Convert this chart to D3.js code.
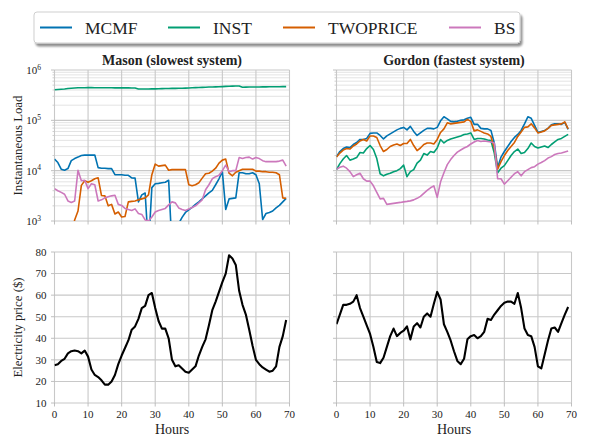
<!DOCTYPE html>
<html>
<head>
<meta charset="utf-8">
<script src="https://cdn.jsdelivr.net/npm/d3@7"></script>
<style>
  html, body { margin: 0; padding: 0; background: #fff; }
  svg { display: block; }
  svg text { font-family: "Liberation Serif", "DejaVu Serif", serif; }
</style>
</head>
<body>
<svg id="chart" width="591" height="437"></svg>
<script>
// ---- data -------------------------------------------------------------
const seriesNames = ["MCMF", "INST", "TWOPRICE", "BS"];
const seriesColors = ["#0173b2", "#029e73", "#d55e00", "#cc78bc"];
const panelTitles = ["Mason (slowest system)", "Gordon (fastest system)"];
const hourTicks = [0, 10, 20, 30, 40, 50, 60, 70];
const priceTicks = [10, 20, 30, 40, 50, 60, 70, 80];
const loadTicks = [1e3, 1e4, 1e5, 1e6];
const loadTickExponents = ["3", "4", "5", "6"];

// instantaneous load per hour, Mason
const masonMCMF = [17000, 14500, 10700, 10200, 11000, 15800, 17400, 18600, 20000, 20400,
  20400, 20400, 20400, 11500, 11200, 11200, 11000, 11000, 8300, 8300,
  8300, 8100, 8100, 7200, 7100, 2400, 3300, 3600, 300, 4600,
  5500, 5600, 5750, 5900, 6450, 300, 300, 890, 1180, 1480,
  1660, 1860, 2140, 2400, 2750, 3160, 3630, 4070, 5250, 6900,
  9550, 1700, 2750, 2820, 2880, 9100, 9100, 8700, 8700, 9100,
  8300, 5500, 1070, 1410, 1480, 1580, 1820, 2040, 2400, 2820];
const masonINST = [405000, 410000, 415000, 420000, 428000, 435000, 440000, 443000, 445000, 445000,
  446000, 446000, 445000, 444000, 444000, 443000, 443000, 443000, 442000, 442000,
  442000, 441000, 441000, 440000, 438000, 420000, 419000, 419000, 420000, 421000,
  422000, 424000, 426000, 428000, 430000, 431000, 432000, 433000, 435000, 437000,
  440000, 443000, 446000, 449000, 452000, 455000, 458000, 460000, 462000, 465000,
  468000, 472000, 475000, 478000, 480000, 481000, 455000, 456000, 458000, 459000,
  460000, 461000, 462000, 463000, 464000, 465000, 466000, 466000, 467000, 468000];
const masonTWOPRICE = [400, 400, 400, 400, 400, 400, 1050, 1580, 5100, 6300,
  5900, 6300, 6900, 7200, 3200, 3160, 2000, 2140, 1380, 1510,
  1200, 1230, 2400, 2450, 2500, 2630, 2750, 2880, 3300, 8300,
  13500, 12300, 12600, 12900, 10200, 10500, 10500, 10500, 10500, 10500,
  5250, 5000, 5250, 5750, 7100, 8700, 8900, 9800, 11200, 14100,
  16200, 17000, 8900, 7900, 9300, 10000, 10700, 10700, 10700, 10700,
  9800, 9800, 9550, 9550, 9300, 9300, 9100, 8300, 2880, 2820];
const masonBS = [4400, 4000, 3700, 3400, 2500, 2340, 2500, 10200, 6300, 6450,
  4400, 5500, 5250, 2500, 2630, 2880, 3020, 3160, 3240, 2140,
  2040, 1780, 1700, 1620, 1740, 1410, 1350, 1050, 1000, 1200,
  1510, 1620, 1700, 1780, 2090, 2400, 2290, 1820, 1700, 1620,
  1740, 1860, 2000, 2290, 2630, 4170, 5250, 6900, 7600, 8100,
  10000, 12900, 9550, 10000, 10000, 18200, 17400, 18200, 18600, 17000,
  18200, 17400, 15800, 15100, 15100, 15100, 15100, 15500, 16200, 12300];

// instantaneous load per hour, Gordon
const gordonMCMF = [19000, 24000, 27500, 29500, 28800, 33100, 36300, 41700, 41700, 43700,
  55000, 56200, 56200, 50100, 42700, 49000, 53700, 58900, 64600, 69200,
  72400, 64600, 75900, 60300, 50100, 56200, 63100, 69200, 69200, 67600,
  72400, 97700, 117500, 107200, 95500, 93300, 95500, 100000, 102300, 109600,
  114800, 83200, 83200, 69200, 67600, 67600, 63100, 35500, 11500, 18600,
  24000, 30200, 38000, 45700, 52500, 63100, 85100, 117500, 109600, 79400,
  57500, 60300, 63100, 69200, 81300, 85100, 85100, 83200, 91200, 66100];
const gordonINST = [10500, 13800, 17000, 20000, 16200, 17000, 18200, 22900, 22400, 27500,
  31600, 26300, 17400, 8700, 7900, 8500, 8900, 9550, 10000, 11000,
  12900, 7600, 9550, 10500, 14100, 16200, 21900, 20400, 24000, 22900,
  28200, 41700, 35500, 39800, 42700, 44700, 46800, 49000, 52500, 53700,
  56200, 41700, 43700, 43700, 42700, 40700, 39800, 22400, 9100, 11200,
  12600, 15800, 20000, 24000, 26900, 21900, 22900, 27500, 35500, 30200,
  28200, 29500, 30900, 28800, 33100, 37200, 41700, 43700, 47900, 52500];
const gordonTWOPRICE = [18600, 22400, 25700, 27500, 26900, 30900, 33900, 38900, 41700, 38900,
  49000, 49000, 45700, 31600, 24000, 26300, 30200, 32400, 33900, 31600,
  34700, 34700, 41700, 31600, 25100, 28200, 33100, 35500, 35500, 33900,
  41700, 57500, 67600, 89100, 85100, 87100, 89100, 91200, 93300, 104700,
  95500, 61700, 64600, 60300, 56200, 53700, 47900, 28200, 10700, 15100,
  20000, 25100, 30200, 36300, 47900, 58900, 72400, 74100, 85100, 70800,
  56200, 58900, 61700, 69200, 79400, 81300, 83200, 85100, 93300, 67600];
const gordonBS = [10700, 11700, 12300, 11200, 9550, 7600, 8300, 8900, 6900, 6200,
  6200, 5000, 3700, 2750, 2820, 2140, 2190, 2240, 2290, 2340,
  2400, 2450, 2510, 2630, 2820, 3090, 3550, 4070, 4570, 5000,
  2950, 6000, 9100, 13200, 16600, 20000, 23400, 25700, 28200, 30200,
  33900, 37200, 39800, 38000, 38900, 38000, 37200, 35500, 6900, 6900,
  5400, 6300, 7400, 8700, 9550, 7900, 9550, 10500, 11500, 12000,
  13500, 14500, 15800, 17800, 19000, 20900, 21900, 22400, 23400, 24500];

// electricity price per hour ($)
const masonPrice = [27.5, 28, 29.5, 30.5, 33, 34, 34.3, 34, 33, 34.3,
  31.5, 25.5, 23, 22, 20.5, 18.5, 18.5, 20, 23, 28,
  32, 35.5, 39, 44, 45.5, 49, 54, 55, 60, 61,
  54, 48, 44.5, 44.5, 40, 30, 27, 27.5, 26, 24.5,
  24, 25.5, 27, 32, 36, 39.5, 46, 53, 57, 61.5,
  66, 70, 78.5, 77, 74, 62, 55.5, 51, 44, 36.5,
  30, 28, 26.5, 25.5, 24.5, 25, 27, 36, 41, 48.5];
const gordonPrice = [46.5, 51, 55.5, 55.5, 56, 57, 60, 54, 50, 46,
  42, 36, 29, 28.5, 31, 36, 41, 44.5, 41, 42.5,
  43.5, 45.5, 39.5, 45.5, 47, 45, 50, 51.5, 50, 56,
  61.5, 58, 46.5, 43, 39, 34, 29.5, 28, 30.5, 39.5,
  41, 41.5, 40, 41, 43, 49, 48.5, 51, 53, 55,
  56.5, 57, 57, 56, 61, 54, 44.5, 41.5, 41, 36,
  27, 26, 32.5, 39, 44.5, 45, 43, 47, 51, 54.5];

const loadSeries = [
  [masonMCMF, masonINST, masonTWOPRICE, masonBS],
  [gordonMCMF, gordonINST, gordonTWOPRICE, gordonBS]
];
const priceSeries = [masonPrice, gordonPrice];

// ---- layout -----------------------------------------------------------
const FONT = "Liberation Serif";
const svg = d3.select("#chart");
const columns = [{ left: 54.5, right: 289.5 }, { left: 336.5, right: 571.5 }];
const loadBox = { top: 70, bottom: 221 };
const priceBox = { top: 252, bottom: 403 };
const gridMajor = "#c8c8c8";
const gridMinor = "#dcdcdc";
const tickColor = "#b0b0b0";
const textColor = "#222";

const defs = svg.append("defs");
const shadow = defs.append("filter").attr("id", "legendShadow")
  .attr("x", "-5%").attr("y", "-20%").attr("width", "110%").attr("height", "160%");
shadow.append("feGaussianBlur").attr("in", "SourceAlpha").attr("stdDeviation", 1.2).attr("result", "b");
shadow.append("feOffset").attr("in", "b").attr("dx", 2).attr("dy", 2.5).attr("result", "o");
shadow.append("feComponentTransfer").attr("in", "o").attr("result", "s")
  .append("feFuncA").attr("type", "linear").attr("slope", 0.45);
const merge = shadow.append("feMerge");
merge.append("feMergeNode").attr("in", "s");
merge.append("feMergeNode").attr("in", "SourceGraphic");

columns.forEach((col, i) => {
  const x = d3.scaleLinear().domain([0, 70]).range([col.left, col.right]);
  const yLoad = d3.scaleLog().domain([1e3, 1e6]).range([loadBox.bottom, loadBox.top]);
  const yPrice = d3.scaleLinear().domain([10, 80]).range([priceBox.bottom, priceBox.top]);

  // clip regions
  const clipLoad = `clipLoad${i}`;
  defs.append("clipPath").attr("id", clipLoad).append("rect")
    .attr("x", col.left).attr("y", loadBox.top)
    .attr("width", col.right - col.left).attr("height", loadBox.bottom - loadBox.top);
  const clipPrice = `clipPrice${i}`;
  defs.append("clipPath").attr("id", clipPrice).append("rect")
    .attr("x", col.left).attr("y", priceBox.top - 2)
    .attr("width", col.right - col.left).attr("height", priceBox.bottom - priceBox.top + 4);

  // ---- load panel ----
  const gL = svg.append("g");
  const allLoadTicks = yLoad.ticks();
  const minorLoadTicks = allLoadTicks.filter(v => !loadTicks.includes(v));

  gL.selectAll("line.minor").data(minorLoadTicks).join("line")
    .attr("x1", col.left).attr("x2", col.right)
    .attr("y1", d => yLoad(d)).attr("y2", d => yLoad(d))
    .attr("stroke", gridMinor).attr("stroke-width", 0.8);
  gL.selectAll("line.minortick").data(minorLoadTicks).join("line")
    .attr("x1", col.left - 2).attr("x2", col.left)
    .attr("y1", d => yLoad(d)).attr("y2", d => yLoad(d))
    .attr("stroke", tickColor).attr("stroke-width", 0.6);
  gL.selectAll("line.major").data(loadTicks).join("line")
    .attr("x1", col.left).attr("x2", col.right)
    .attr("y1", d => yLoad(d)).attr("y2", d => yLoad(d))
    .attr("stroke", gridMajor).attr("stroke-width", 1.1);
  gL.selectAll("line.vgrid").data(hourTicks).join("line")
    .attr("x1", d => x(d)).attr("x2", d => x(d))
    .attr("y1", loadBox.top).attr("y2", loadBox.bottom)
    .attr("stroke", gridMajor).attr("stroke-width", 1.1);
  gL.selectAll("line.ltick").data(loadTicks).join("line")
    .attr("x1", col.left - 3.5).attr("x2", col.left)
    .attr("y1", d => yLoad(d)).attr("y2", d => yLoad(d))
    .attr("stroke", tickColor).attr("stroke-width", 0.8);
  gL.selectAll("line.btick").data(hourTicks).join("line")
    .attr("x1", d => x(d)).attr("x2", d => x(d))
    .attr("y1", loadBox.bottom).attr("y2", loadBox.bottom + 3.5)
    .attr("stroke", tickColor).attr("stroke-width", 0.8);

  if (i === 0) {
    const lbl = gL.selectAll("text.ylab").data(loadTicks).join("text")
      .attr("x", col.left - 21).attr("y", d => yLoad(d) + 4)
      .attr("text-anchor", "middle").attr("font-family", FONT)
      .attr("font-size", 11).attr("fill", textColor);
    lbl.append("tspan").text("10");
    lbl.append("tspan").attr("dy", -4.5).attr("font-size", 7.5)
      .text((d, k) => loadTickExponents[k]);
  }

  const loadLine = d3.line().x((d, k) => x(k)).y(d => yLoad(d));
  const gLines = gL.append("g").attr("clip-path", `url(#${clipLoad})`);
  loadSeries[i].forEach((vals, s) => {
    gLines.append("path").datum(vals)
      .attr("d", loadLine)
      .attr("fill", "none").attr("stroke", seriesColors[s])
      .attr("stroke-width", 1.6).attr("stroke-linejoin", "round");
  });

  svg.append("text").attr("x", (col.left + col.right) / 2).attr("y", 65)
    .attr("text-anchor", "middle").attr("font-family", FONT)
    .attr("font-weight", "bold").attr("font-size", 14)
    .attr("fill", textColor).text(panelTitles[i]);

  // ---- price panel ----
  const gP = svg.append("g");
  gP.selectAll("line.hgrid").data(priceTicks).join("line")
    .attr("x1", col.left).attr("x2", col.right)
    .attr("y1", d => yPrice(d)).attr("y2", d => yPrice(d))
    .attr("stroke", gridMajor).attr("stroke-width", 1.1);
  gP.selectAll("line.vgrid").data(hourTicks).join("line")
    .attr("x1", d => x(d)).attr("x2", d => x(d))
    .attr("y1", priceBox.top).attr("y2", priceBox.bottom)
    .attr("stroke", gridMajor).attr("stroke-width", 1.1);
  gP.selectAll("line.ltick").data(priceTicks).join("line")
    .attr("x1", col.left - 3.5).attr("x2", col.left)
    .attr("y1", d => yPrice(d)).attr("y2", d => yPrice(d))
    .attr("stroke", tickColor).attr("stroke-width", 0.8);
  gP.selectAll("line.btick").data(hourTicks).join("line")
    .attr("x1", d => x(d)).attr("x2", d => x(d))
    .attr("y1", priceBox.bottom).attr("y2", priceBox.bottom + 3.5)
    .attr("stroke", tickColor).attr("stroke-width", 0.8);

  if (i === 0) {
    gP.selectAll("text.ylab").data(priceTicks).join("text")
      .attr("x", col.left - 8).attr("y", d => yPrice(d) + 3.8)
      .attr("text-anchor", "end").attr("font-family", FONT)
      .attr("font-size", 11).attr("fill", textColor)
      .text(d => d);
  }
  gP.selectAll("text.xlab").data(hourTicks).join("text")
    .attr("x", d => x(d)).attr("y", 418)
    .attr("text-anchor", "middle").attr("font-family", FONT)
    .attr("font-size", 11).attr("fill", textColor)
    .text(d => d);

  const priceLine = d3.line().x((d, k) => x(k)).y(d => yPrice(d));
  gP.append("path").datum(priceSeries[i])
    .attr("clip-path", `url(#${clipPrice})`)
    .attr("d", priceLine)
    .attr("fill", "none").attr("stroke", "#000")
    .attr("stroke-width", 2.1).attr("stroke-linejoin", "round");

  svg.append("text").attr("x", (col.left + col.right) / 2).attr("y", 434)
    .attr("text-anchor", "middle").attr("font-family", FONT)
    .attr("font-size", 14).attr("fill", textColor)
    .text("Hours");
});

// axis titles
svg.append("text")
  .attr("transform", `translate(22,${(loadBox.top + loadBox.bottom) / 2}) rotate(-90)`)
  .attr("text-anchor", "middle").attr("font-family", FONT)
  .attr("font-size", 12.8).attr("fill", textColor)
  .text("Instantaneous Load");
svg.append("text")
  .attr("transform", `translate(22,${(priceBox.top + priceBox.bottom) / 2}) rotate(-90)`)
  .attr("text-anchor", "middle").attr("font-family", FONT)
  .attr("font-size", 12.8).attr("fill", textColor)
  .text("Electricity price ($)");

// ---- legend -----------------------------------------------------------
const legend = svg.append("g");
legend.append("rect")
  .attr("x", 34).attr("y", 12).attr("width", 486).attr("height", 31)
  .attr("rx", 3).attr("fill", "#fff").attr("stroke", "#cfcfcf").attr("stroke-width", 1)
  .attr("filter", "url(#legendShadow)");
const legendLineX = [40, 168, 283, 449];
const legendItems = legend.selectAll("g.item").data(seriesNames).join("g");
legendItems.append("line")
  .attr("x1", (d, k) => legendLineX[k]).attr("x2", (d, k) => legendLineX[k] + 32)
  .attr("y1", 27.5).attr("y2", 27.5)
  .attr("stroke", (d, k) => seriesColors[k]).attr("stroke-width", 2);
legendItems.append("text")
  .attr("x", (d, k) => legendLineX[k] + 45).attr("y", 33.5)
  .attr("font-family", FONT).attr("font-size", 17.5).attr("fill", textColor)
  .text(d => d);
</script>
</body>
</html>
